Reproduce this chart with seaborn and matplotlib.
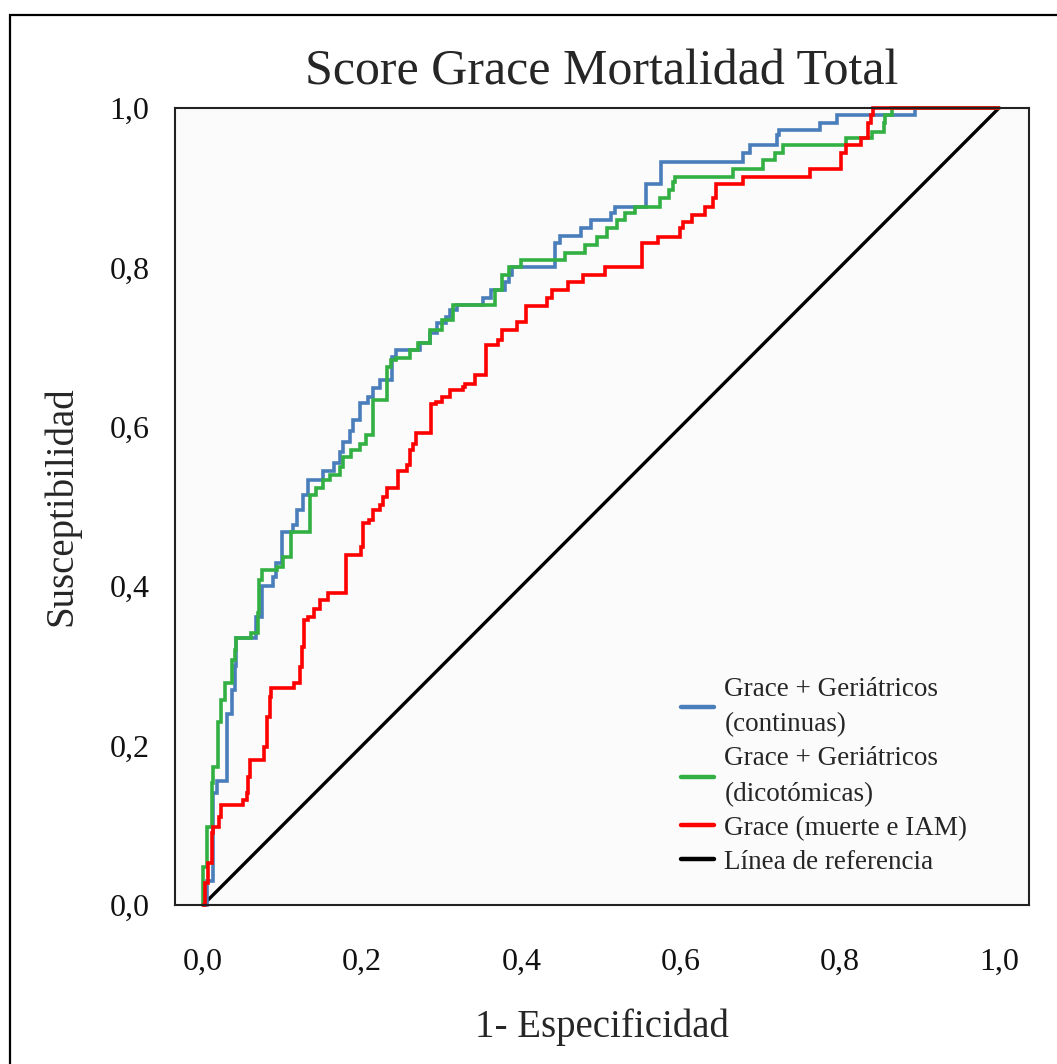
import matplotlib
matplotlib.use("Agg")
import matplotlib.pyplot as plt
from matplotlib.patches import Rectangle
import pandas as pd
import seaborn as sns

# ROC corner points (1 - specificity, sensitivity); each point marks the level
# reached after a vertical step, held until the next point.
fpr_continuas = [0.0, 0.005, 0.012, 0.017, 0.030, 0.036, 0.040, 0.042, 0.066, 0.074,
                 0.088, 0.092, 0.099, 0.113, 0.118, 0.126, 0.132, 0.151, 0.165, 0.172,
                 0.176, 0.185, 0.189, 0.197, 0.207, 0.214, 0.222, 0.237, 0.243, 0.273,
                 0.285, 0.294, 0.305, 0.310, 0.319, 0.352, 0.362, 0.379, 0.384, 0.388,
                 0.442, 0.449, 0.475, 0.488, 0.513, 0.518, 0.557, 0.576, 0.679, 0.687,
                 0.721, 0.723, 0.775, 0.796, 0.894, 1.0]
tpr_continuas = [0.0, 0.030, 0.140, 0.155, 0.240, 0.270, 0.300, 0.335, 0.361, 0.400,
                 0.412, 0.429, 0.468, 0.477, 0.496, 0.514, 0.533, 0.545, 0.554, 0.568,
                 0.581, 0.595, 0.608, 0.630, 0.638, 0.649, 0.659, 0.688, 0.696, 0.705,
                 0.718, 0.730, 0.738, 0.747, 0.753, 0.762, 0.772, 0.782, 0.790, 0.801,
                 0.830, 0.839, 0.849, 0.859, 0.868, 0.876, 0.905, 0.932, 0.943, 0.954,
                 0.966, 0.972, 0.981, 0.991, 1.0, 1.0]

fpr_dicotomicas = [0.0, 0.0, 0.005, 0.011, 0.013, 0.019, 0.023, 0.027, 0.036, 0.040,
                   0.042, 0.060, 0.069, 0.070, 0.074, 0.093, 0.101, 0.110, 0.111, 0.134,
                   0.142, 0.151, 0.159, 0.172, 0.176, 0.186, 0.197, 0.205, 0.214, 0.231,
                   0.236, 0.243, 0.260, 0.270, 0.285, 0.300, 0.314, 0.367, 0.375, 0.384,
                   0.400, 0.455, 0.480, 0.495, 0.507, 0.520, 0.530, 0.543, 0.574, 0.585,
                   0.590, 0.593, 0.666, 0.704, 0.719, 0.729, 0.808, 0.840, 0.855, 0.857,
                   0.865, 1.0]
tpr_dicotomicas = [0.0, 0.048, 0.098, 0.153, 0.173, 0.230, 0.257, 0.279, 0.307, 0.320,
                   0.335, 0.341, 0.366, 0.408, 0.420, 0.424, 0.437, 0.464, 0.468, 0.514,
                   0.523, 0.533, 0.540, 0.550, 0.562, 0.571, 0.579, 0.590, 0.634, 0.675,
                   0.684, 0.686, 0.696, 0.705, 0.721, 0.734, 0.753, 0.772, 0.790, 0.800,
                   0.809, 0.818, 0.828, 0.838, 0.849, 0.859, 0.868, 0.876, 0.887, 0.897,
                   0.907, 0.914, 0.924, 0.935, 0.943, 0.954, 0.962, 0.970, 0.981, 0.991,
                   1.0, 1.0]

fpr_grace = [0.0, 0.003, 0.006, 0.011, 0.013, 0.020, 0.023, 0.050, 0.055, 0.057,
             0.059, 0.076, 0.080, 0.084, 0.086, 0.114, 0.122, 0.124, 0.127, 0.132,
             0.139, 0.147, 0.157, 0.180, 0.199, 0.201, 0.209, 0.214, 0.222, 0.226,
             0.231, 0.245, 0.256, 0.260, 0.264, 0.268, 0.287, 0.293, 0.300, 0.310,
             0.327, 0.329, 0.342, 0.356, 0.371, 0.375, 0.394, 0.406, 0.432, 0.438,
             0.459, 0.478, 0.505, 0.551, 0.572, 0.599, 0.603, 0.614, 0.631, 0.641,
             0.645, 0.679, 0.763, 0.802, 0.808, 0.827, 0.836, 0.839, 0.842, 1.0]
tpr_grace = [0.0, 0.027, 0.053, 0.090, 0.098, 0.111, 0.125, 0.132, 0.140, 0.160,
             0.182, 0.198, 0.236, 0.261, 0.272, 0.278, 0.299, 0.324, 0.357, 0.361,
             0.372, 0.383, 0.391, 0.439, 0.449, 0.479, 0.483, 0.496, 0.502, 0.512,
             0.523, 0.544, 0.552, 0.571, 0.579, 0.592, 0.629, 0.631, 0.638, 0.646,
             0.650, 0.654, 0.665, 0.703, 0.709, 0.721, 0.732, 0.751, 0.761, 0.772,
             0.782, 0.790, 0.801, 0.830, 0.838, 0.849, 0.857, 0.866, 0.876, 0.887,
             0.905, 0.914, 0.924, 0.943, 0.954, 0.962, 0.981, 0.991, 1.0, 1.0]

ref_x = [0.0, 1.0]
ref_y = [0.0, 1.0]

labels = ["Grace + Geriátricos\n(continuas)",
          "Grace + Geriátricos\n(dicotómicas)",
          "Grace (muerte e IAM)",
          "Línea de referencia"]
colors = ["#4a7ebb", "#33b043", "#ff0000", "#000000"]

tick_values = [0.0, 0.2, 0.4, 0.6, 0.8, 1.0]
tick_labels = ["0,0", "0,2", "0,4", "0,6", "0,8", "1,0"]

title = "Score Grace Mortalidad Total"
xlabel = "1- Especificidad"
ylabel = "Susceptibilidad"

df = pd.concat([
    pd.DataFrame({"fpr": fpr_continuas, "tpr": tpr_continuas, "curva": labels[0]}),
    pd.DataFrame({"fpr": fpr_dicotomicas, "tpr": tpr_dicotomicas, "curva": labels[1]}),
    pd.DataFrame({"fpr": fpr_grace, "tpr": tpr_grace, "curva": labels[2]}),
], ignore_index=True)
ref = pd.DataFrame({"fpr": ref_x, "tpr": ref_y})

sns.set_theme(style="white")
plt.rcParams["font.family"] = ["Liberation Serif", "DejaVu Serif"]

W, H = 1057, 1064
fig = plt.figure(figsize=(W / 100, H / 100), dpi=100)
fig.patch.set_facecolor("white")
ax = fig.add_axes([175 / W, 1 - 905 / H, (1029 - 175) / W, (905 - 108) / H])
ax.set_facecolor("#fbfbfb")

sns.lineplot(data=ref, x="fpr", y="tpr", color=colors[3], lw=2.4,
             estimator=None, sort=False, ax=ax, legend=False)
sns.lineplot(data=df, x="fpr", y="tpr", hue="curva", hue_order=labels[:3],
             palette=colors[:3], lw=2.6, drawstyle="steps-post",
             estimator=None, sort=False, ax=ax, legend=False)

for ln in ax.get_lines():
    ln.set_clip_on(False)
    ln.set_solid_joinstyle("miter")

ax.set_xlim(-0.0352, 1.0377)
ax.set_ylim(0.0, 1.0)
ax.set_xticks(tick_values)
ax.set_xticklabels(tick_labels)
ax.set_yticks(tick_values)
ax.set_yticklabels(tick_labels)
ax.tick_params(axis="both", direction="out", length=11.5, width=1.3,
               color="#222222", labelsize=23, labelcolor="#111111")
ax.tick_params(axis="x", pad=19)
ax.tick_params(axis="y", pad=7)
for sp in ax.spines.values():
    sp.set_color("#222222")
    sp.set_linewidth(1.5)

ax.set_xlabel(xlabel, fontsize=28)
ax.set_ylabel(ylabel, fontsize=28)
ax.xaxis.set_label_coords(0.5, (905 - 1008) / 797)
ax.yaxis.set_label_coords((80 - 175) / 854, 0.5)
ax.set_title(title, fontsize=36, pad=17)

handles = [plt.Line2D([], [], color=c, lw=3.2) for c in colors]
leg = fig.legend(handles, labels, loc="upper left",
                 bbox_to_anchor=(681 / W, 1 - 677 / H), frameon=False,
                 fontsize=19.5, handlelength=1.2, handletextpad=0.4,
                 labelspacing=0.33, borderpad=0.0, borderaxespad=0.0)
for t in leg.get_texts():
    t.set_linespacing(1.55)

# outer frame around the whole figure
fig.patches.append(Rectangle((10 / W, -0.05), 1.2, 1 - 15 / H + 0.05,
                             transform=fig.transFigure, fill=False,
                             edgecolor="black", lw=1.6))

fig.savefig("out.png", dpi=100)
